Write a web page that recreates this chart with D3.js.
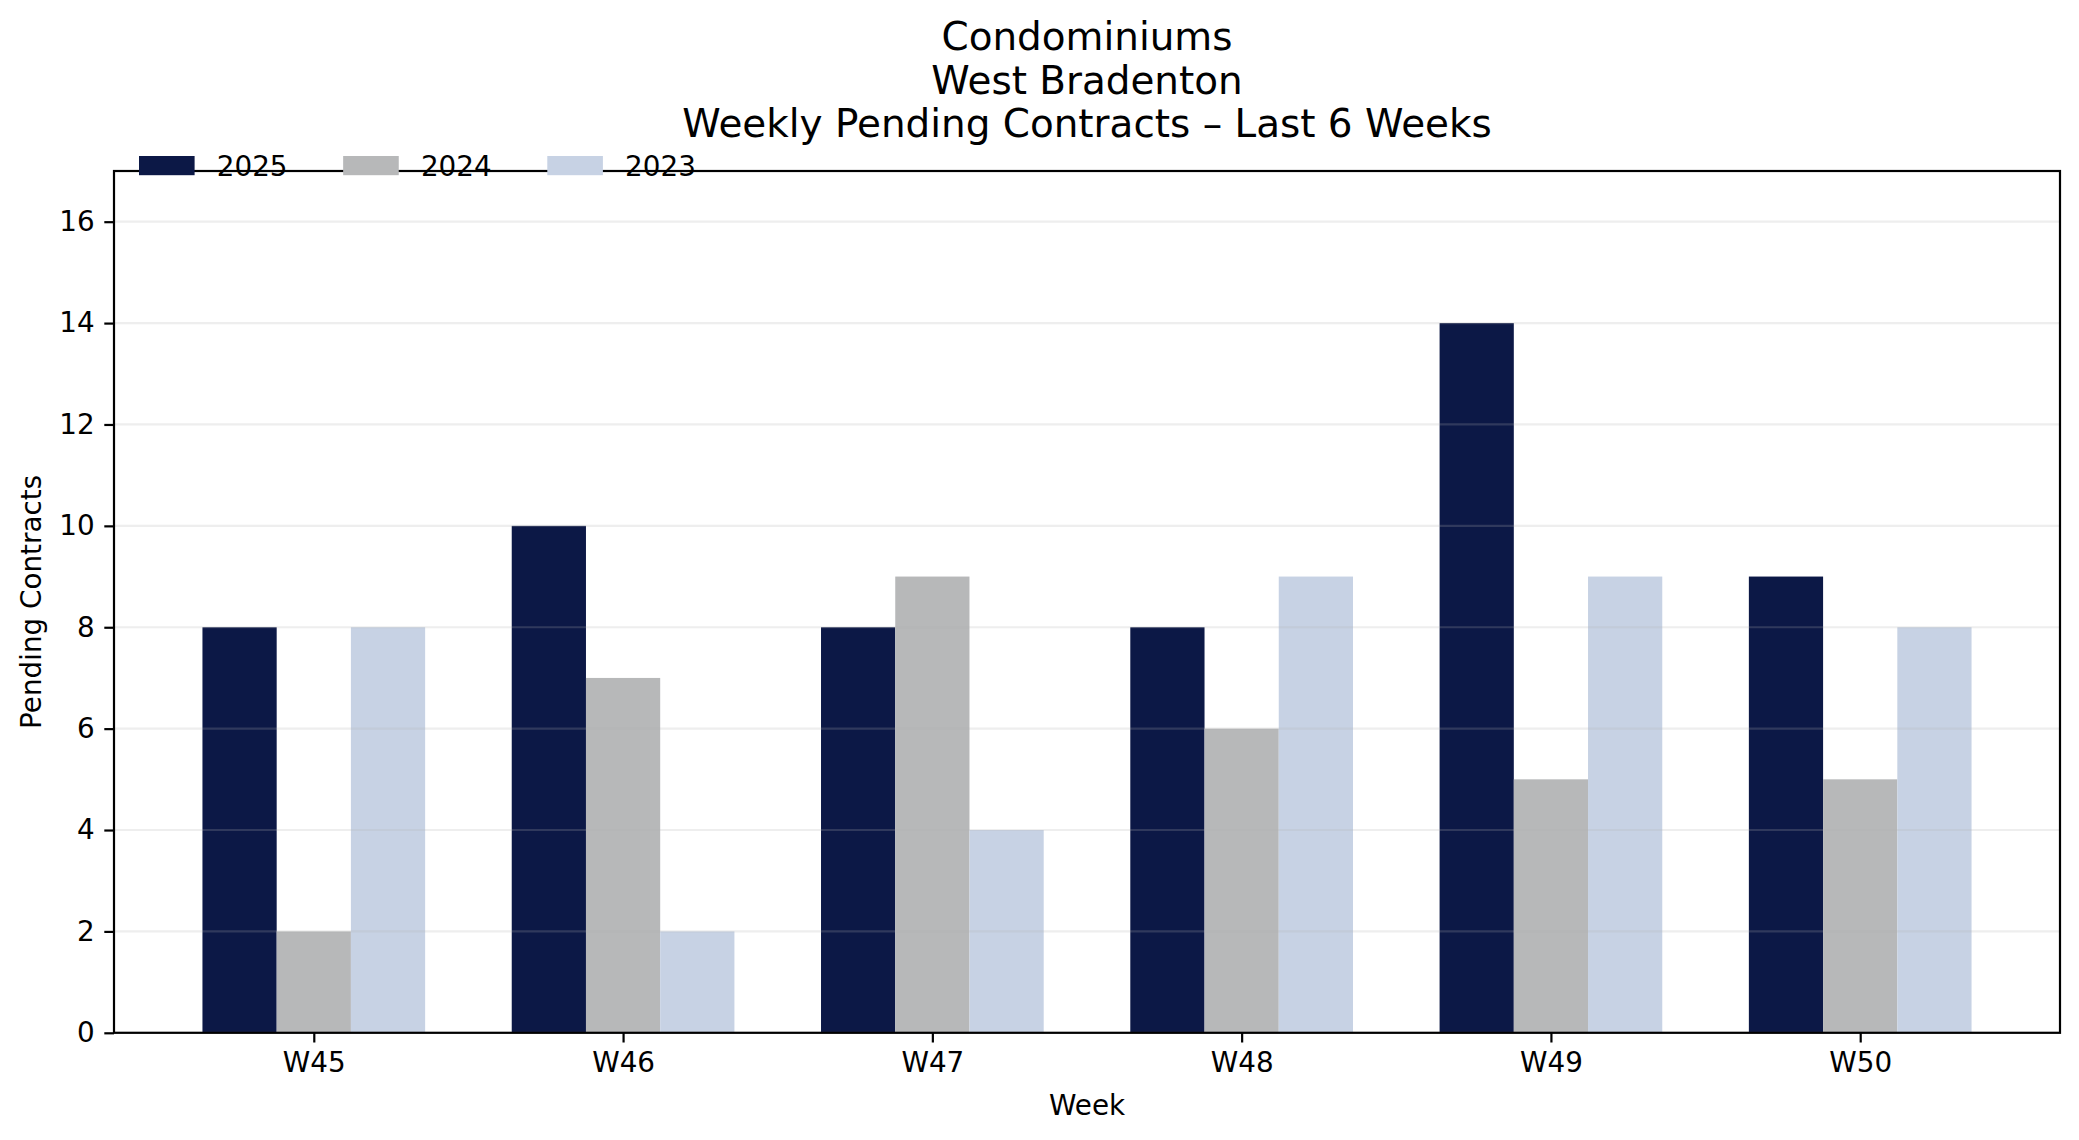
<!DOCTYPE html>
<html>
<head>
<meta charset="utf-8">
<script src="https://cdn.jsdelivr.net/npm/d3@7"></script>
<style>
  html, body { margin: 0; padding: 0; background: #ffffff; }
  svg { display: block; }
  text { font-family: "DejaVu Sans", sans-serif; fill: #000; }
</style>
</head>
<body>
<div id="chart"></div>
<script>
// ---- data ----
const weeks = ["W45", "W46", "W47", "W48", "W49", "W50"];
const seriesNames = ["2025", "2024", "2023"];
const values2025 = [8, 10, 8, 8, 14, 9];
const values2024 = [2, 7, 9, 6, 5, 5];
const values2023 = [8, 2, 4, 9, 9, 8];
const yTicks = [0, 2, 4, 6, 8, 10, 12, 14, 16];
const titleLines = ["Condominiums", "West Bradenton", "Weekly Pending Contracts \u2013 Last 6 Weeks"];
const xLabel = "Week";
const yLabel = "Pending Contracts";

(function () {
// ---- styles / layout ----
const colors = ["#0c1846", "#b7b8b9", "#c7d2e4"];
const W = 2079, H = 1140;
const mLeft = 114, mRight = 2060, mTop = 171, mBottom = 1032.8;
const barW = 0.24;
const tickFont = 27.8, titleFont = 38.9;

const seriesValues = [values2025, values2024, values2023];

const svg = d3.select("#chart").append("svg").attr("width", W).attr("height", H);

const ext0 = -1.5 * barW, ext1 = (weeks.length - 1) + 1.5 * barW;
const pad = 0.05 * (ext1 - ext0);
const x = d3.scaleLinear().domain([ext0 - pad, ext1 + pad]).range([mLeft, mRight]);
const y = d3.scaleLinear().domain([0, 17]).range([mBottom, mTop]);

// bars
seriesValues.forEach((vals, s) => {
  svg.append("g").selectAll("rect").data(vals).join("rect")
    .attr("x", (d, i) => x(i + (s - 1) * barW - barW / 2))
    .attr("width", (d, i) => x(i + (s - 1) * barW + barW / 2) - x(i + (s - 1) * barW - barW / 2))
    .attr("y", d => y(d))
    .attr("height", d => y(0) - y(d))
    .attr("fill", colors[s]);
});

// grid (drawn over bars, translucent)
svg.append("g").selectAll("line").data(yTicks).join("line")
  .attr("x1", mLeft).attr("x2", mRight)
  .attr("y1", d => y(d)).attr("y2", d => y(d))
  .attr("stroke", "#b0b0b0").attr("stroke-opacity", 0.22).attr("stroke-width", 2.2);

// axes
const yAxis = d3.axisLeft(y).tickValues(yTicks).tickSize(9.7).tickPadding(9.7).tickFormat(d3.format("d"));
const gy = svg.append("g").attr("transform", `translate(${mLeft},0)`).call(yAxis);
gy.select(".domain").remove();
gy.selectAll(".tick line").attr("stroke", "#000").attr("stroke-width", 2.2);
gy.selectAll(".tick text").style("font-size", tickFont + "px").style("font-family", "DejaVu Sans").attr("fill", "#000");

const xAxis = d3.axisBottom(x).tickValues(d3.range(weeks.length)).tickSize(9.7).tickPadding(9.7).tickFormat(i => weeks[i]);
const gx = svg.append("g").attr("transform", `translate(0,${mBottom})`).call(xAxis);
gx.select(".domain").remove();
gx.selectAll(".tick line").attr("stroke", "#000").attr("stroke-width", 2.2);
gx.selectAll(".tick text").style("font-size", tickFont + "px").style("font-family", "DejaVu Sans").attr("fill", "#000");

// spines
svg.append("rect").attr("x", mLeft).attr("y", mTop).attr("width", mRight - mLeft).attr("height", mBottom - mTop)
  .attr("fill", "none").attr("stroke", "#000").attr("stroke-width", 2.2);

// axis labels
svg.append("text").attr("x", (mLeft + mRight) / 2).attr("y", 1115).attr("text-anchor", "middle")
  .style("font-size", tickFont + "px").text(xLabel);
svg.append("text").attr("transform", `translate(41,${(mTop + mBottom) / 2}) rotate(-90)`).attr("text-anchor", "middle")
  .style("font-size", tickFont + "px").text(yLabel);

// title
const titleBaselines = [50, 93.5, 137];
titleLines.forEach((t, i) => {
  svg.append("text").attr("x", (mLeft + mRight) / 2).attr("y", titleBaselines[i]).attr("text-anchor", "middle")
    .style("font-size", titleFont + "px").text(t);
});

// legend
const lg = svg.append("g");
let lx = 139;
seriesNames.forEach((name, i) => {
  lg.append("rect").attr("x", lx).attr("y", 156).attr("width", 55.6).attr("height", 19.2).attr("fill", colors[i]);
  const t = lg.append("text").attr("x", lx + 55.6 + 22.2).attr("y", 175.5).style("font-size", tickFont + "px").text(name);
  const tw = t.node().getComputedTextLength();
  lx += 55.6 + 22.2 + tw + 55.6;
});
})();
</script>
</body>
</html>
